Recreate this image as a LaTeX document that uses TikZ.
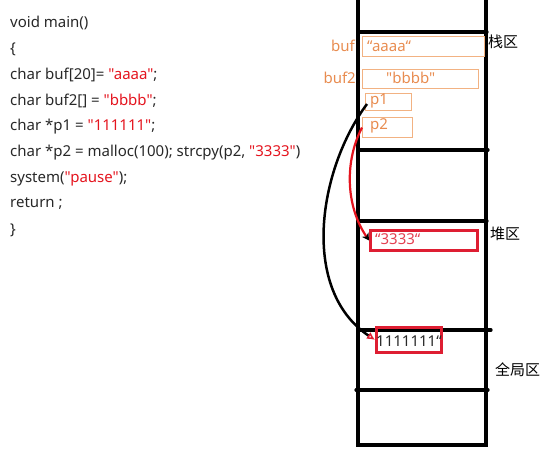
\documentclass[tikz,border=0pt]{standalone}
\usepackage{fontspec}
\setmainfont{Noto Sans}[Ligatures=TeXOff]
\newfontfamily\cjk{Noto Sans CJK SC}
\usetikzlibrary{positioning, arrows.meta}
\definecolor{strred}{RGB}{228, 20, 30}
\definecolor{boxred}{RGB}{222, 30, 50}
\definecolor{txtorange}{RGB}{232, 140, 80}
\definecolor{boxorange}{RGB}{242, 178, 130}
\definecolor{codegray}{RGB}{40, 40, 40}
\newcommand{\str}[1]{\textcolor{strred}{#1}}

\tikzset{
  code/.style={anchor=west, inner sep=0pt, text=codegray, font=\fontsize{15}{17}\selectfont},
  obox/.style={draw=boxorange, line width=1.2pt, anchor=north west, inner sep=0pt},
  otxt/.style={anchor=west, inner sep=0pt, text=txtorange, font=\fontsize{15}{17}\selectfont},
  rbox/.style={draw=boxred, line width=2.8pt, anchor=north west, inner sep=0pt},
  zone/.style={anchor=west, inner sep=0pt, font=\cjk\fontsize{15}{17}\selectfont},
  wall/.style={line width=3.2pt, line cap=round},
}

\begin{document}
\begin{tikzpicture}[x=1pt, y=-1pt]
    \useasboundingbox (0,0) rectangle (548,464);

    % 代码
    \node[code] (c1) at (10,23) {void main()};
    \node[code] (c2) at (10,49) {\{};
    \node[code] (c3) at (10,75) {char buf[20]= \str{"aaaa"};};
    \node[code] (c4) at (10,101) {char buf2[] = \str{"bbbb"};};
    \node[code] (c5) at (10,127) {char *p1 = \str{"111111"};};
    \node[code] (c6) at (10,153) {char *p2 = malloc(100); strcpy(p2, \str{"3333"})};
    \node[code] (c7) at (10,179) {system(\str{"pause"});};
    \node[code] (c8) at (10,204) {return ;};
    \node[code] (c9) at (10,230) {\}};

    % 内存区域
    \draw[wall] (358,0) -- (358,445) -- (486,445) -- (486,0);
    \draw[wall] (358,32) -- (487,32);
    \draw[wall] (358,150) -- (488,150);
    \draw[wall] (358,221) -- (487,221);
    \draw[wall] (358,330) -- (491,330);
    \draw[wall] (356,390) -- (488,390);

    \node[zone] (stack) at (488,42) {栈区};
    \node[zone] (heap) at (490,234) {堆区};
    \node[zone] (global) at (495,370) {全局区};

    % 栈上变量
    \node[obox, minimum width=122pt, minimum height=20pt] (buf) at (362,36) {};
    \node[otxt] (bufv) at (367,46) {“aaaa“};
    \node[otxt, anchor=east] (bufn) at (355,46) {buf};
    \node[obox, minimum width=116pt, minimum height=19pt] (buf2) at (362,69) {};
    \node[otxt] (buf2v) at (386,78) {"bbbb"};
    \node[otxt, anchor=east] (buf2n) at (356,78) {buf2};
    \node[obox, minimum width=46pt, minimum height=17pt] (p1) at (365,93) {};
    \node[otxt] (p1n) at (370,101) {p1};
    \node[obox, minimum width=50pt, minimum height=20pt] (p2) at (362,117) {};
    \node[otxt] (p2n) at (370,126) {p2};

    % 堆
    \node[rbox, minimum width=107pt, minimum height=20pt] (str3) at (369,229) {};
    \node[anchor=west, inner sep=0pt, text=boxred!85, font=\fontsize{15}{17}\selectfont] (str3v) at (375,239) {“3333“};

    % 常量区
    \node[rbox, minimum width=65pt, minimum height=25pt] (str1) at (375,326) {};
    \node[anchor=west, inner sep=0pt, text=codegray, font=\fontsize{15}{17}\selectfont] (str1v) at (376,341) {1111111“};

    % 指针
    \draw[line width=2.5pt, -{Latex[open, boxred, length=8pt, width=8pt, line width=1.5pt]}]
        (367,104) .. controls (318,170) and (300,290) .. (str1.west);
    \draw[strred, line width=2.2pt, -{Stealth[black, length=7pt, width=8pt]}]
        (p2.west) .. controls (345,160) and (345,205) .. (str3.west);
\end{tikzpicture}
\end{document}
